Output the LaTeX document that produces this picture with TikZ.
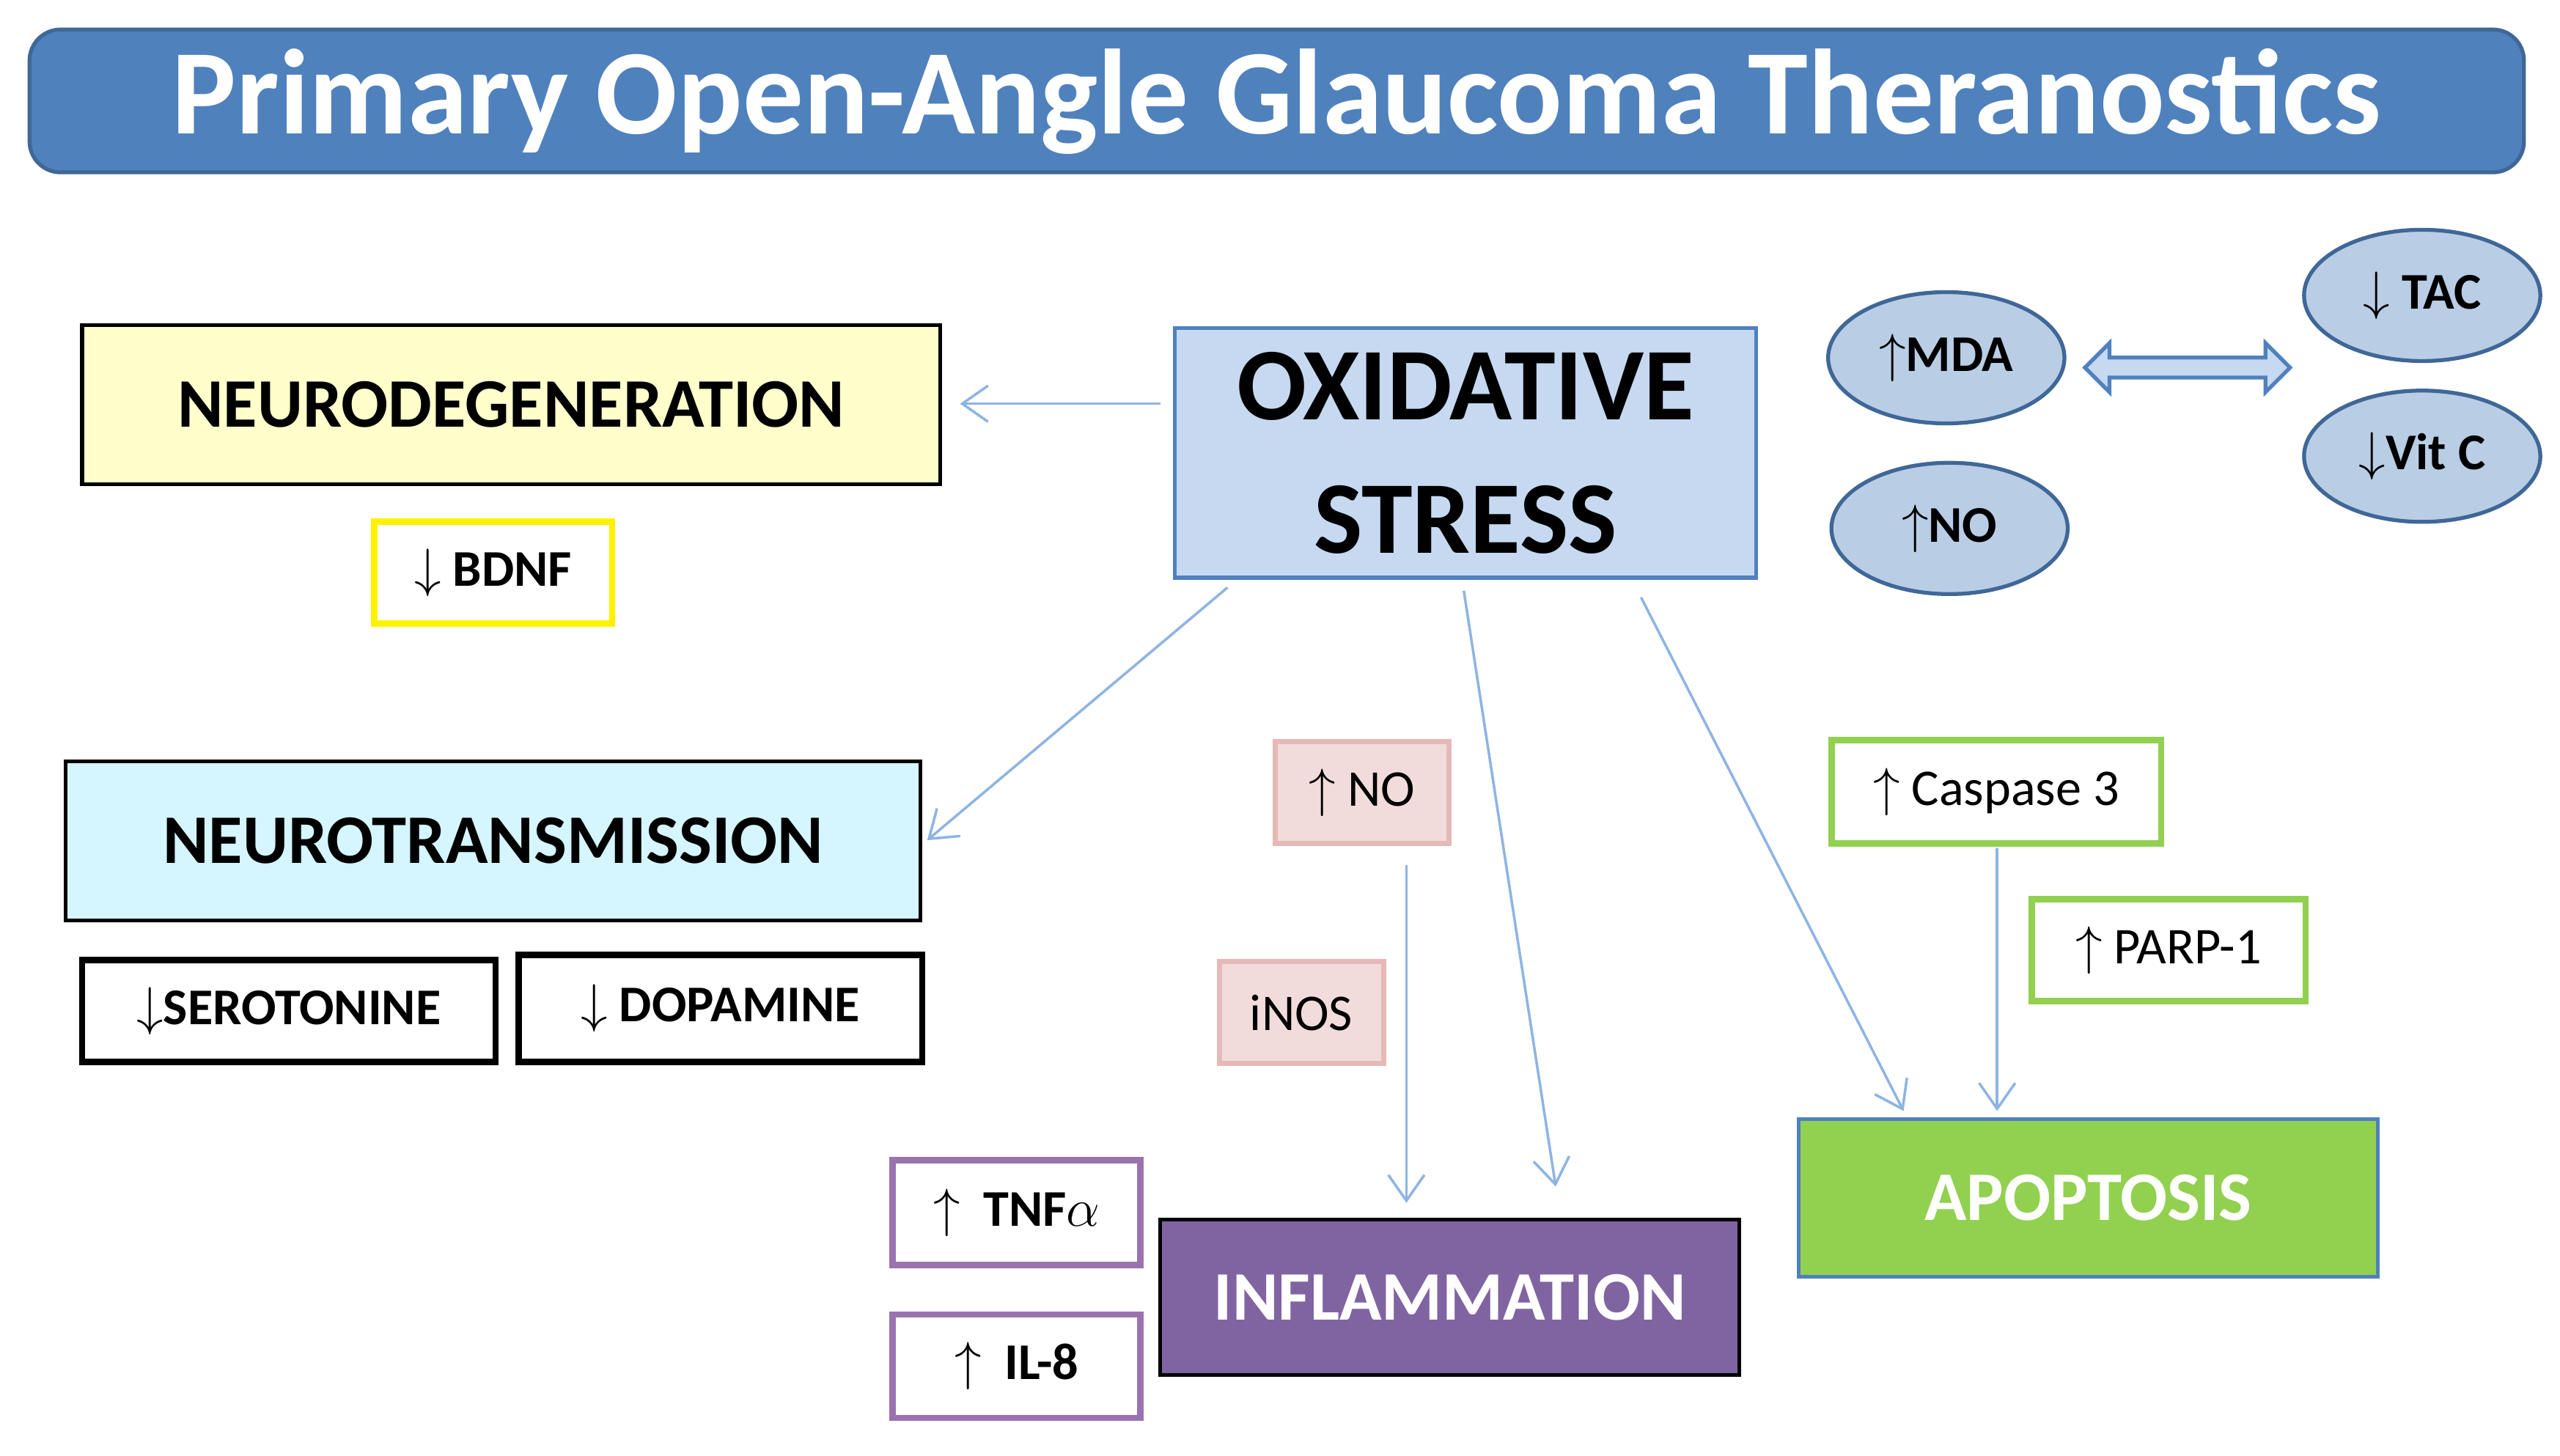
\documentclass[tikz,border=0pt]{standalone}
\usepackage{fontspec}
\setmainfont{Carlito}
\usetikzlibrary{arrows.meta,shapes.arrows,shapes.geometric}
\definecolor{tblue}{HTML}{4F81BD}
\definecolor{lblue}{HTML}{C6D9F1}
\definecolor{eblue}{HTML}{B9CDE5}
\definecolor{ablue}{HTML}{8EB4E3}
\definecolor{lyel}{HTML}{FFFFCC}
\definecolor{lcyan}{HTML}{D5F5FF}
\definecolor{pinkf}{HTML}{F2DCDB}
\definecolor{pinkd}{HTML}{E6B9B8}
\definecolor{purp}{HTML}{8064A2}
\definecolor{purpd}{HTML}{9B72B0}
\definecolor{grn}{HTML}{92D050}
\begin{document}
\begin{tikzpicture}[x=0.02238cm,y=-0.02238cm,
 box/.style={draw,line width=1.5pt,inner sep=0pt,font=\bfseries\fontsize{27}{30}\selectfont},
 small/.style={draw,line width=2.5pt,inner sep=0pt,font=\fontsize{20}{23}\selectfont},
 ell/.style={ellipse,draw=tblue!80!black,fill=eblue,line width=1.5pt,inner sep=0pt,minimum width=144*0.02238cm,minimum height=80*0.02238cm,font=\bfseries\fontsize{20}{23}\selectfont},
 arr/.style={draw=ablue,line width=1pt,-{Straight Barb[length=10pt,width=14pt]}}]
\useasboundingbox (0,0) rectangle (1560,887);
\fill[white] (0,0) rectangle (1560,887);
% title
\path[fill=tblue,draw=tblue!80!black,line width=1.5pt,rounded corners=12pt] (18,18) rectangle (1538,105);
\node[text=white,font=\bfseries\fontsize{47}{52}\selectfont] (tt) at (778,62) {Primary Open-Angle Glaucoma Theranostics};
% left
\node[box,fill=lyel,minimum width=523*0.02238cm,minimum height=97*0.02238cm] (neuro) at (311.5,246.5) {NEURODEGENERATION};
\node[small,draw=yellow,minimum width=145*0.02238cm,minimum height=62*0.02238cm,font=\bfseries\fontsize{20}{23}\selectfont] (bdnf) at (300.5,349) {$\downarrow$ BDNF};
\node[box,fill=lcyan,minimum width=521*0.02238cm,minimum height=97*0.02238cm] (ntrans) at (300.5,512.5) {NEUROTRANSMISSION};
\node[small,minimum width=252*0.02238cm,minimum height=62*0.02238cm,font=\bfseries\fontsize{20}{23}\selectfont] (sero) at (176,616) {$\downarrow$SEROTONINE};
\node[small,minimum width=246*0.02238cm,minimum height=65*0.02238cm,font=\bfseries\fontsize{20}{23}\selectfont] (dopa) at (439,614.5) {$\downarrow$ DOPAMINE};
% oxidative
\node[box,draw=tblue,fill=lblue,minimum width=354*0.02238cm,minimum height=152*0.02238cm,align=center,font=\bfseries\fontsize{40}{52}\selectfont] (ox) at (893,276) {OXIDATIVE\\STRESS};
\node[ell] (mda) at (1186,218) {$\uparrow$MDA};
\node[ell] (no1) at (1188,322) {$\uparrow$NO};
\node[ell] (tac) at (1476,180) {$\downarrow$ TAC};
\node[ell] (vitc) at (1476,278) {$\downarrow$Vit C};
\node[double arrow,draw=tblue,fill=lblue,line width=1.5pt,minimum width=30*0.02238cm,double arrow head extend=4pt,minimum height=125*0.02238cm,inner sep=2pt] (dbl) at (1333,224) {};
% inflammation branch
\node[small,draw=pinkd,fill=pinkf,line width=2pt,minimum width=106*0.02238cm,minimum height=62*0.02238cm] (no2) at (830,483) {$\uparrow$ NO};
\node[small,draw=pinkd,fill=pinkf,line width=2pt,minimum width=100*0.02238cm,minimum height=62*0.02238cm] (inos) at (793,617) {iNOS};
\node[box,fill=purp,text=white,minimum width=353*0.02238cm,minimum height=95*0.02238cm] (infl) at (883.5,790.5) {INFLAMMATION};
\node[small,draw=purpd,minimum width=151*0.02238cm,minimum height=64*0.02238cm,font=\bfseries\fontsize{20}{23}\selectfont] (tnf) at (619.5,739) {$\uparrow$\ \ TNF$\alpha$};
\node[small,draw=purpd,minimum width=151*0.02238cm,minimum height=63*0.02238cm,font=\bfseries\fontsize{20}{23}\selectfont] (il8) at (619.5,832.5) {$\uparrow$\ \ IL-8};
% apoptosis branch
\node[small,draw=grn,minimum width=201*0.02238cm,minimum height=63*0.02238cm] (casp) at (1216.5,482.5) {$\uparrow$ Caspase 3};
\node[small,draw=grn,minimum width=167*0.02238cm,minimum height=62*0.02238cm] (parp) at (1321.5,579) {$\uparrow$ PARP-1};
\node[box,draw=tblue,fill=grn,text=white,minimum width=353*0.02238cm,minimum height=96*0.02238cm] (apo) at (1272.5,730) {APOPTOSIS};
% connectors
\coordinate (a1) at (707,246); \coordinate (b1) at (585,246);
\coordinate (a2) at (748,358); \coordinate (b2) at (565,512);
\coordinate (a3) at (857,527); \coordinate (b3) at (857,733);
\coordinate (a4) at (892,360); \coordinate (b4) at (948,723);
\coordinate (a5) at (1000,364); \coordinate (b5) at (1160,677);
\coordinate (a6) at (1217,517); \coordinate (b6) at (1217,677);
\draw[arr] (a1) -- (b1);
\draw[arr] (a2) -- (b2);
\draw[arr] (a3) -- (b3);
\draw[arr] (a4) -- (b4);
\draw[arr] (a5) -- (b5);
\draw[arr] (a6) -- (b6);
\end{tikzpicture}
\end{document}
